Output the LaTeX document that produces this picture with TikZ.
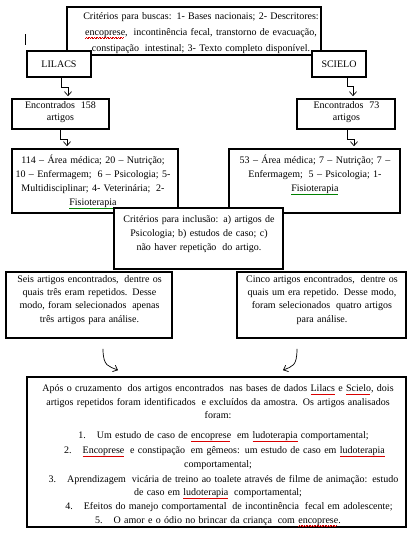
\documentclass[tikz,border=0pt]{standalone}
\usepackage{fontspec}
\setmainfont{Liberation Serif}
\usetikzlibrary{arrows.meta,calc}
\newcommand\wavy[2]{\leavevmode\setbox0=\hbox{#2}\rlap{\hbox to\wd0{\color{#1}\leaders\hbox{\rule[-3pt]{0.8pt}{0.45pt}\rule[-2.5pt]{0.8pt}{0.45pt}}\hfill}}\box0\relax}
\newcommand\redw[1]{\wavy{red!85!black}{#1}}
\newcommand\grnw[1]{\wavy{green!50!black}{#1}}
\newcommand\xs{\hspace{2.5pt}}
\begin{document}
\begin{tikzpicture}[x=1pt,y=-1pt,
  box/.style={draw,line width=1.6pt,fill=white,inner sep=0pt},
  txt/.style={inner sep=0pt,align=center,font=\fontsize{10}{13.5}\selectfont},
  elbow/.style={line width=0.7pt,-{Straight Barb[length=4pt,width=7pt]}},
  curv/.style={line width=0.7pt,-{Straight Barb[length=4pt,width=7pt]}}]
\useasboundingbox[fill=white] (0,0) rectangle (410,542);

% top criteria box
\node[box,minimum width=254,minimum height=48] (top) at (194,31) {};
\node[txt,text width=254,font=\fontsize{10}{16}\selectfont] (toptxt) at (201,33)
  {Critérios para buscas: 1- Bases nacionais; 2- Descritores:\\
   \redw{encoprese}, \xs incontinência fecal, transtorno de evacuação,\\
   constipação \xs intestinal; 3- Texto completo disponível.};

% cursor mark
\draw[line width=1.8pt] (25.5,34) -- (25.5,45);

% databases
\node[box,minimum width=64,minimum height=26,font=\fontsize{10}{12}\selectfont] (lilacs) at (59,64) {LILACS};
\node[box,minimum width=54,minimum height=26,font=\fontsize{10}{12}\selectfont] (scielo) at (339,64) {SCIELO};

% found boxes
\node[box,minimum width=97,minimum height=30] (enc158) at (60.5,114) {};
\node[txt,text width=97,font=\fontsize{10}{12.3}\selectfont] (enc158t) at (60.5,112) {Encontrados \xs 158\\artigos};
\node[box,minimum width=98,minimum height=30] (enc73) at (346,114) {};
\node[txt,text width=98,font=\fontsize{10}{12.3}\selectfont] (enc73t) at (346.5,112) {Encontrados \xs 73\\artigos};

% area boxes
\node[box,minimum width=166,minimum height=64] (b114) at (95,181) {};
\node[txt,text width=166,font=\fontsize{10}{14}\selectfont] (b114t) at (93,182)
  {114 – Área médica; 20 – Nutrição;\\
   10 – Enfermagem; \xs 6 – Psicologia; 5-\\
   Multidisciplinar; 4- Veterinária; \xs 2-\\
   \grnw{Fisioterapia}};
\node[box,minimum width=171,minimum height=64] (b53) at (314.5,181) {};
\node[txt,text width=171,font=\fontsize{10}{14}\selectfont] (b53t) at (315,175)
  {53 – Área médica; 7 – Nutrição; 7 –\\
   Enfermagem; \xs 5 – Psicologia; 1-\\
   \grnw{Fisioterapia}};

% inclusion criteria
\node[box,minimum width=169,minimum height=61] (incl) at (198.5,238.5) {};
\node[txt,text width=169,font=\fontsize{10}{13.8}\selectfont] (inclt) at (199,234)
  {Critérios para inclusão: a) artigos de\\
   Psicologia; b) estudos de caso; c)\\
   não haver repetição \xs do artigo.};

% lower boxes
\node[box,minimum width=166,minimum height=66] (seis) at (89,305) {};
\node[txt,text width=166,font=\fontsize{10}{13.1}\selectfont] (seist) at (89.5,300)
  {Seis artigos encontrados, \xs dentre os\\
   quais três eram repetidos. Desse\\
   modo, foram selecionados \xs apenas\\
   três artigos para análise.};
\node[box,minimum width=169,minimum height=66] (cinco) at (321.5,305) {};
\node[txt,text width=169,font=\fontsize{10}{13.1}\selectfont] (cincot) at (322,300)
  {Cinco artigos encontrados, \xs dentre os\\
   quais um era repetido. Desse modo,\\
   foram selecionados \xs quatro artigos\\
   para análise.};

% final box
\node[box,minimum width=379,minimum height=150] (final) at (216.5,452) {};
\node[txt,text width=379] (finalt) at (218,455.5)
  {Após o cruzamento \xs dos artigos encontrados \xs nas bases de dados \redw{Lilacs} e \redw{Scielo}, dois\\
   artigos repetidos foram identificados \xs e excluídos da amostra. Os artigos analisados\\
   foram:\\[6.5pt]
   \hspace*{11pt}1.\hspace{1.1em}Um estudo de caso de \redw{encoprese} \xs em \redw{ludoterapia} comportamental;\\[1.5pt]
   \hspace*{13pt}2.\hspace{1.1em}\redw{Encoprese} \xs e constipação \xs em gêmeos: um estudo de caso em \redw{ludoterapia}\\
   comportamental;\hspace*{50pt}\\[1.5pt]
   \hspace*{11pt}3.\hspace{1.1em}Aprendizagem \xs vicária de treino ao toalete através de filme de animação: estudo\\
   de caso em \redw{ludoterapia} \xs comportamental;\\[0.5pt]
   \hspace*{22pt}4.\hspace{1.1em}Efeitos do manejo comportamental \xs de incontinência \xs fecal em adolescente;\\
   5.\hspace{1.1em}O amor e o ódio no brincar da criança \xs com \redw{encoprese}.};

% elbow connectors
\draw[elbow] ($(lilacs.south)+(2,0)$) -- ++(0,10) -| ($(enc158.north)+(7.5,-2)$);
\draw[elbow] ($(enc158.south)+(-0.5,0)$) -- ++(0,10) -| ($(b114.north)+(-28,-2)$);
\draw[elbow] ($(scielo.south)+(8,0)$) -- ++(0,9) -| ($(enc73.north)+(7,-2)$);
\draw[elbow] ($(enc73.south)+(1,0)$) -- ++(0,10) -| ($(b53.north)+(39.5,-2)$);

% curved connectors
\draw[curv] ($(seis.south)+(14,10)$) .. controls +(0,18) and +(-9,-4) .. ($(final.north)+(-98.5,-6)$);
\draw[curv] ($(cinco.south)+(-24.5,10)$) .. controls +(0,18) and +(9,-4) .. ($(final.north)+(66.5,-6)$);
\end{tikzpicture}
\end{document}
